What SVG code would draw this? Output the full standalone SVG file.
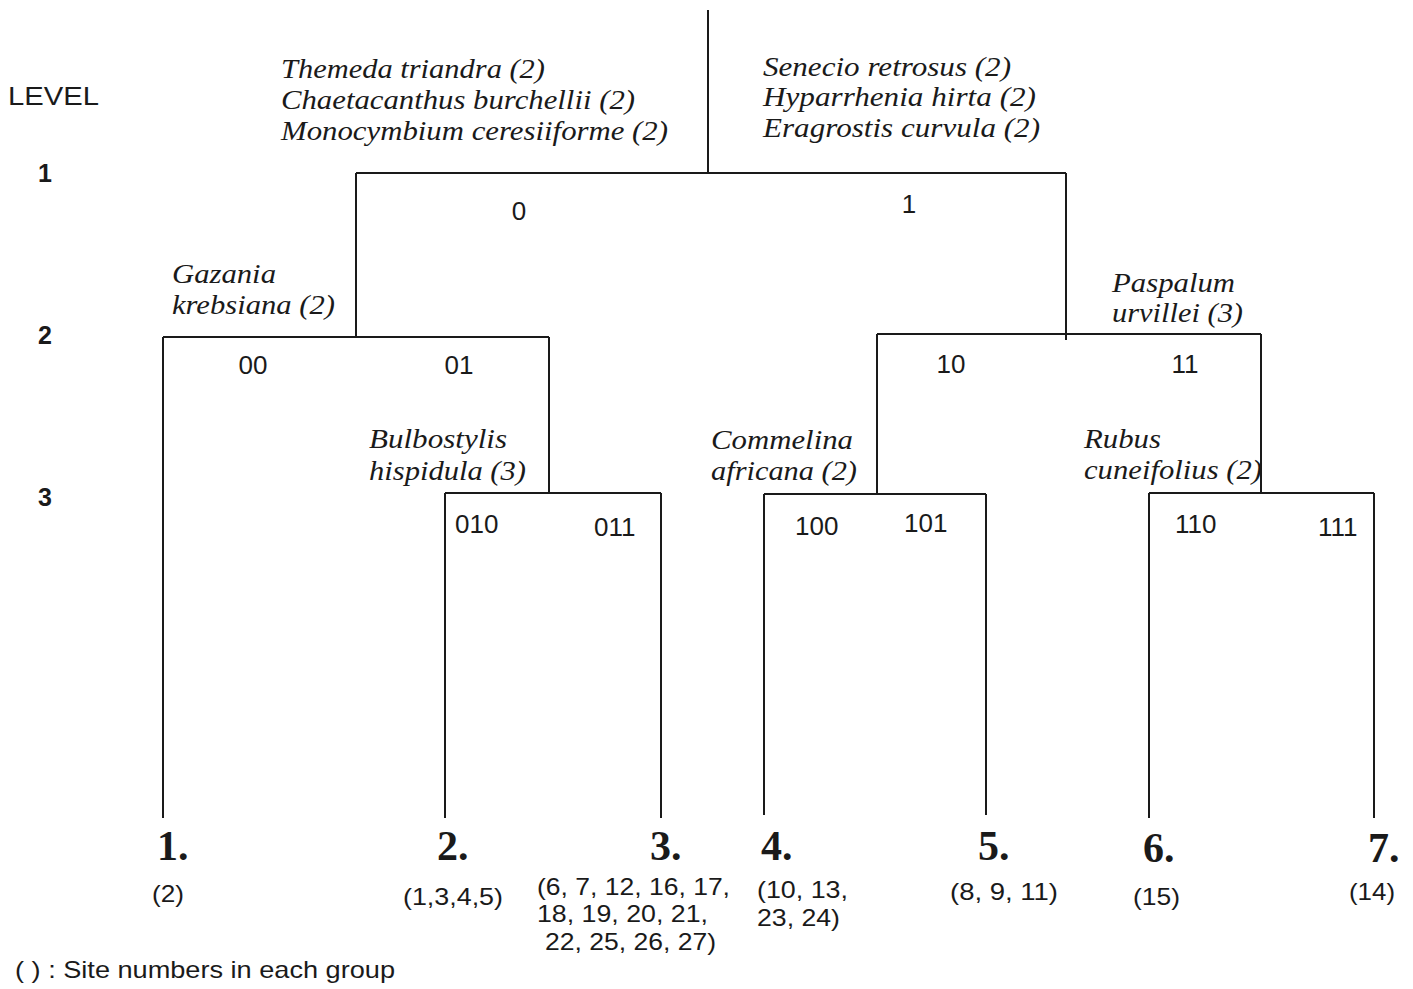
<svg xmlns="http://www.w3.org/2000/svg" width="1413" height="989" viewBox="0 0 1413 989">
<style>
.ln{stroke:#1a1a1a;stroke-width:2;fill:none}
.sp{font-family:"Liberation Serif",serif;font-style:italic;font-size:27px;fill:#1a1a1a}
.cd{font-family:"Liberation Sans",Arial,sans-serif;font-size:26px;fill:#1a1a1a}
.lv{font-family:"Liberation Sans",Arial,sans-serif;font-size:25px;fill:#1a1a1a}
.lb{font-family:"Liberation Sans",Arial,sans-serif;font-size:25px;font-weight:bold;fill:#1a1a1a}
.gp{font-family:"Liberation Serif",serif;font-size:42px;font-weight:bold;fill:#1a1a1a}
.st{font-family:"Liberation Sans",Arial,sans-serif;font-size:24px;fill:#1a1a1a}
</style>
<rect width="1413" height="989" fill="#fff"/>
<g id="connectors" class="ln">
<path d="M708 10V173M356 173H1066M356 173V337M1066 173V340"/>
<path d="M163 337H549M163 337V818M549 337V493M445 493H661M445 493V818M661 493V818"/>
<path d="M877 334H1261M877 334V493M764 494H986M764 494V815M986 494V815"/>
<path d="M1261 334V493M1149 493H1374M1149 493V818M1374 493V818"/>
</g>
<g id="levels">
<text class="lv" x="8" y="105" textLength="91" lengthAdjust="spacingAndGlyphs">LEVEL</text>
<text class="lb" x="38" y="182">1</text>
<text class="lb" x="38" y="344">2</text>
<text class="lb" x="38" y="506">3</text>
</g>
<g id="node-root-left">
<text class="sp" x="281" y="78" textLength="264" lengthAdjust="spacingAndGlyphs">Themeda triandra (2)</text>
<text class="sp" x="281" y="109" textLength="354" lengthAdjust="spacingAndGlyphs">Chaetacanthus burchellii (2)</text>
<text class="sp" x="281" y="140" textLength="387" lengthAdjust="spacingAndGlyphs">Monocymbium ceresiiforme (2)</text>
</g>
<g id="node-root-right">
<text class="sp" x="763" y="76" textLength="248" lengthAdjust="spacingAndGlyphs">Senecio retrosus (2)</text>
<text class="sp" x="763" y="106" textLength="273" lengthAdjust="spacingAndGlyphs">Hyparrhenia hirta (2)</text>
<text class="sp" x="763" y="137" textLength="277" lengthAdjust="spacingAndGlyphs">Eragrostis curvula (2)</text>
</g>
<g id="node-0"><text class="cd" x="519" y="220" text-anchor="middle">0</text></g>
<g id="node-1"><text class="cd" x="909" y="213" text-anchor="middle">1</text></g>
<g id="node-0-species">
<text class="sp" x="172" y="283" textLength="104" lengthAdjust="spacingAndGlyphs">Gazania</text>
<text class="sp" x="172" y="314" textLength="163" lengthAdjust="spacingAndGlyphs">krebsiana (2)</text>
</g>
<g id="node-1-species">
<text class="sp" x="1112" y="292" textLength="123" lengthAdjust="spacingAndGlyphs">Paspalum</text>
<text class="sp" x="1112" y="322" textLength="131" lengthAdjust="spacingAndGlyphs">urvillei (3)</text>
</g>
<g id="node-00"><text class="cd" x="253" y="374" text-anchor="middle">00</text></g>
<g id="node-01"><text class="cd" x="459" y="374" text-anchor="middle">01</text></g>
<g id="node-10"><text class="cd" x="951" y="373" text-anchor="middle">10</text></g>
<g id="node-11"><text class="cd" x="1185" y="373" text-anchor="middle">11</text></g>
<g id="node-01-species">
<text class="sp" x="369" y="448" textLength="138" lengthAdjust="spacingAndGlyphs">Bulbostylis</text>
<text class="sp" x="369" y="480" textLength="157" lengthAdjust="spacingAndGlyphs">hispidula (3)</text>
</g>
<g id="node-10-species">
<text class="sp" x="711" y="449" textLength="142" lengthAdjust="spacingAndGlyphs">Commelina</text>
<text class="sp" x="711" y="480" textLength="146" lengthAdjust="spacingAndGlyphs">africana (2)</text>
</g>
<g id="node-11-species">
<text class="sp" x="1084" y="448" textLength="77" lengthAdjust="spacingAndGlyphs">Rubus</text>
<text class="sp" x="1084" y="479" textLength="178" lengthAdjust="spacingAndGlyphs">cuneifolius (2)</text>
</g>
<g id="node-010"><text class="cd" x="455" y="533">010</text></g>
<g id="node-011"><text class="cd" x="594" y="536">011</text></g>
<g id="node-100"><text class="cd" x="795" y="535">100</text></g>
<g id="node-101"><text class="cd" x="904" y="532">101</text></g>
<g id="node-110"><text class="cd" x="1175" y="533">110</text></g>
<g id="node-111"><text class="cd" x="1318" y="536">111</text></g>
<g id="group-1"><text class="gp" x="157" y="860">1.</text><text class="st" x="152" y="902" textLength="32" lengthAdjust="spacingAndGlyphs">(2)</text></g>
<g id="group-2"><text class="gp" x="437" y="860">2.</text><text class="st" x="403" y="905" textLength="100" lengthAdjust="spacingAndGlyphs">(1,3,4,5)</text></g>
<g id="group-3"><text class="gp" x="650" y="860">3.</text>
<text class="st" x="537" y="895" textLength="193" lengthAdjust="spacingAndGlyphs">(6, 7, 12, 16, 17,</text>
<text class="st" x="537" y="922" textLength="171" lengthAdjust="spacingAndGlyphs">18, 19, 20, 21,</text>
<text class="st" x="545" y="950" textLength="171" lengthAdjust="spacingAndGlyphs">22, 25, 26, 27)</text></g>
<g id="group-4"><text class="gp" x="761" y="860">4.</text>
<text class="st" x="757" y="898" textLength="91" lengthAdjust="spacingAndGlyphs">(10, 13,</text>
<text class="st" x="757" y="926" textLength="83" lengthAdjust="spacingAndGlyphs">23, 24)</text></g>
<g id="group-5"><text class="gp" x="978" y="860">5.</text><text class="st" x="950" y="900" textLength="108" lengthAdjust="spacingAndGlyphs">(8, 9, 11)</text></g>
<g id="group-6"><text class="gp" x="1143" y="862">6.</text><text class="st" x="1133" y="905" textLength="47" lengthAdjust="spacingAndGlyphs">(15)</text></g>
<g id="group-7"><text class="gp" x="1368" y="862">7.</text><text class="st" x="1349" y="900" textLength="46" lengthAdjust="spacingAndGlyphs">(14)</text></g>
<g id="legend"><text class="st" x="15" y="978" textLength="380" lengthAdjust="spacingAndGlyphs">( ) : Site numbers in each group</text></g>
</svg>
